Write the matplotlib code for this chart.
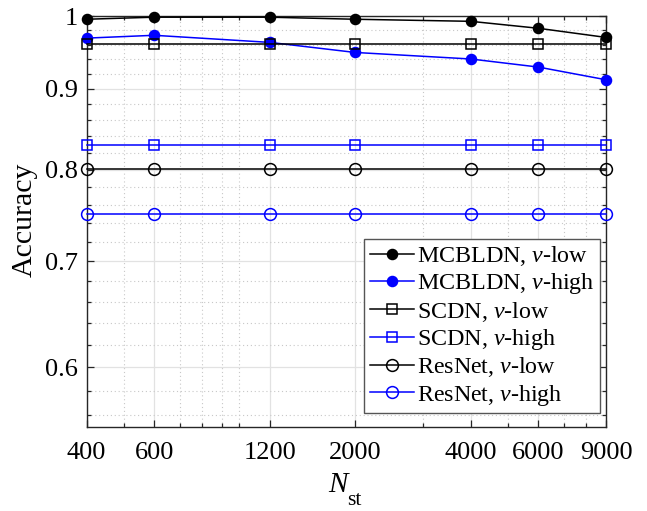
import numpy as np
import matplotlib
matplotlib.use("Agg")
import matplotlib.pyplot as plt
from matplotlib.ticker import FixedLocator, FixedFormatter, NullFormatter

plt.rcParams['font.family'] = ['Liberation Serif', 'DejaVu Serif']
plt.rcParams['mathtext.fontset'] = 'custom'
plt.rcParams['mathtext.rm'] = 'Liberation Serif'
plt.rcParams['mathtext.it'] = 'Liberation Serif:italic'

# Data
n_st = [400, 600, 1200, 2000, 4000, 6000, 9000]
mcbldn_low = [0.996, 0.999, 0.999, 0.996, 0.993, 0.983, 0.970]
mcbldn_high = [0.969, 0.973, 0.963, 0.949, 0.940, 0.929, 0.912]
scdn_low = [0.961] * 7
scdn_high = [0.829] * 7
resnet_low = [0.801] * 7
resnet_high = [0.750] * 7

x_ticks = [400, 600, 1200, 2000, 4000, 6000, 9000]
y_ticks = [0.6, 0.7, 0.8, 0.9, 1.0]
y_tick_labels = ['0.6', '0.7', '0.8', '0.9', '1']

W, H = 647, 511
fig = plt.figure(figsize=(W/100, H/100), dpi=100)
ax = fig.add_axes([86.5/W, 1-427/H, (606-86.5)/W, (427-16.5)/H])
ax.set_xscale('log')
ax.set_yscale('log')

series = [
    (mcbldn_low, 'k', 'o', 'k', 7.2, r'MCBLDN, $v$-low'),
    (mcbldn_high, 'b', 'o', 'b', 7.2, r'MCBLDN, $v$-high'),
    (scdn_low, 'k', 's', 'none', 6.7, r'SCDN, $v$-low'),
    (scdn_high, 'b', 's', 'none', 6.7, r'SCDN, $v$-high'),
    (resnet_low, 'k', 'o', 'none', 8.5, r'ResNet, $v$-low'),
    (resnet_high, 'b', 'o', 'none', 8.5, r'ResNet, $v$-high'),
]
for vals, c, m, fc, ms, lab in series:
    ax.plot(n_st, vals, color=c, marker=m, markerfacecolor=fc, markeredgecolor=c,
            markersize=ms, linewidth=1.1, markeredgewidth=1.1, label=lab,
            clip_on=False, zorder=3)

ax.set_xlim(400, 9000)
ax.set_ylim(0.55, 1.0)

ax.xaxis.set_major_locator(FixedLocator(x_ticks))
ax.xaxis.set_major_formatter(FixedFormatter([str(v) for v in x_ticks]))
ax.xaxis.set_minor_locator(FixedLocator([500, 700, 800, 900, 1000, 3000, 5000, 7000, 8000]))
ax.xaxis.set_minor_formatter(NullFormatter())

ax.yaxis.set_major_locator(FixedLocator(y_ticks))
ax.yaxis.set_major_formatter(FixedFormatter(y_tick_labels))
yminor = [round(v, 2) for v in np.arange(0.56, 0.999, 0.02) if round(v, 2) not in (0.6, 0.7, 0.8, 0.9)]
ax.yaxis.set_minor_locator(FixedLocator(yminor))
ax.yaxis.set_minor_formatter(NullFormatter())

ax.tick_params(which='both', direction='in', top=True, right=True, labelsize=19, width=0.9, color='#262626')
ax.tick_params(which='major', length=5)
ax.tick_params(which='minor', length=3)
ax.tick_params(axis='x', which='major', pad=11)
ax.tick_params(axis='y', which='major', pad=6)

ax.grid(True, which='major', color='#e2e2e2', linestyle='-', linewidth=0.9, zorder=0)
ax.grid(True, which='minor', color='#c8c8c8', linestyle=(0, (1, 2.5)), linewidth=0.8, zorder=0)
ax.set_axisbelow(True)
for s in ax.spines.values():
    s.set_linewidth(1.0)
    s.set_color('#262626')

# Axis labels (MATLAB-style deep subscript)
fig.text(328/W, 1-492/H, 'N', fontsize=21, fontstyle='italic', ha='left', va='baseline')
fig.text(347/W, 1-505/H, 'st', fontsize=15.5, ha='left', va='baseline')
fig.text(25/W, 1-220/H, 'Accuracy', fontsize=21.5, rotation=90, ha='center', va='center')

leg = ax.legend(loc='lower right', bbox_to_anchor=(0.9885, 0.034), borderaxespad=0,
                fontsize=17.3, handlelength=1.85, handletextpad=0.12, labelspacing=0.14,
                borderpad=0.22, frameon=True, fancybox=False, framealpha=1)
leg.get_frame().set_edgecolor('#555555')
leg.get_frame().set_linewidth(1.0)

fig.savefig('out.png', dpi=100)
